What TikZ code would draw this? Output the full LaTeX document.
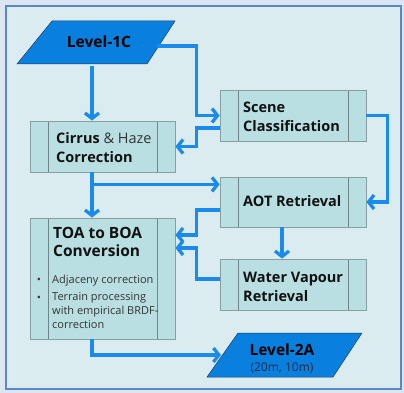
\documentclass[tikz,border=0pt]{standalone}
\usepackage{fontspec}
\setmainfont{Open Sans}
\usetikzlibrary{arrows.meta,calc}
\definecolor{bgout}{HTML}{DCE6F2}
\definecolor{framec}{HTML}{5B87C5}
\definecolor{bgin}{HTML}{DAECEF}
\definecolor{boxfill}{HTML}{B9DFE2}
\definecolor{boxline}{HTML}{86A0A2}
\definecolor{stripline}{HTML}{6E8688}
\definecolor{flowc}{HTML}{1A8BEA}
\definecolor{parafill}{HTML}{0A80DE}
\definecolor{paraline}{HTML}{1A3C66}
\definecolor{txt}{HTML}{111111}
\definecolor{subtxt}{HTML}{333333}
\definecolor{paratxt}{HTML}{1A2A44}
\begin{document}
\begin{tikzpicture}[x=1pt,y=-1pt,
  procbox/.style={draw=boxline, fill=boxfill, line width=0.8pt, minimum width=146pt, inner sep=0pt,
    path picture={\draw[stripline, line width=0.9pt]
      ([xshift=18pt]path picture bounding box.north west) -- ([xshift=18pt]path picture bounding box.south west)
      ([xshift=-18pt]path picture bounding box.north east) -- ([xshift=-18pt]path picture bounding box.south east);}},
  para/.style={draw=paraline, fill=parafill, line width=0.5pt},
  title/.style={font=\bfseries\fontsize{14.5}{19}\selectfont, text=txt, align=left, inner sep=0pt, anchor=west},
  small/.style={font=\fontsize{11}{14}\selectfont, text=subtxt, align=left, inner sep=0pt},
  flow/.style={draw=flowc, line width=3.3pt, -{Straight Barb[length=5.5pt,width=14pt]}}
]
\useasboundingbox (0,0) rectangle (404,393);
\fill[bgout] (0,0) rectangle (404,393);
\draw[framec, fill=bgin, line width=2.6pt] (6,6) rectangle (401,389);

% Level-1C
\draw[para] (17,64) -- (52,21) -- (175,21) -- (147,64) -- cycle;
\node[font=\bfseries\fontsize{15.5}{18}\selectfont, text=black, inner sep=0pt] (l1c) at (99,42) {Level-1C};
\coordinate (l1cR) at (157,46);
\coordinate (l1cB) at (92,66);

% Level-2A
\draw[para] (207,377) -- (238,333) -- (362,333) -- (333,377) -- cycle;
\node[font=\bfseries\fontsize{15.5}{18}\selectfont, text=black, inner sep=0pt] (l2a) at (282,350) {Level-2A};
\node[font=\fontsize{12}{14}\selectfont, text=paratxt, inner sep=0pt] (l2asub) at (282,368) {(20m, 10m)};
\coordinate (l2aL) at (221,355);

% process boxes
\node[procbox, minimum width=145pt, minimum height=51pt] (cirrus) at (102.5,146.5) {};
\node[procbox, minimum height=51pt] (scene) at (293,115.5) {};
\node[procbox, minimum height=50pt] (aot) at (293,202) {};
\node[procbox, minimum height=51pt] (wv) at (293,284.5) {};
\node[procbox, minimum width=145pt, minimum height=121pt] (toa) at (102.5,278.5) {};

% texts
\node[title] (cirrusT) at (56,147.5) {Cirrus {\mdseries\color{subtxt}\&~Haze}\\Correction};
\node[title] (sceneT) at (243,117) {Scene\\Classification};
\node[title] (aotT) at (243,201) {AOT Retrieval};
\node[title] (wvT) at (243,286.5) {Water Vapour\\Retrieval};
\node[title, font=\bfseries\fontsize{15.5}{18}\selectfont, anchor=north west] (toaT) at (53,227) {TOA to BOA\\Conversion};
\node[small] (b1) at (39,281) {•};
\node[small, anchor=west] (t1) at (52,281) {Adjaceny correction};
\node[small] (b2) at (39,299) {•};
\node[small, anchor=north west] (t2) at (52,292) {Terrain processing\\with empirical BRDF-\\correction};

% connectors
\draw[flow] (l1cB) -- ([xshift=-10.5pt]cirrus.north);
\draw[flow] (l1cR) -| ($(scene.west)+(-23,0)$) -- (scene.west);
\draw[flow] ($(scene.west)+(0,12.5)$) -- ++(-23,0) |- (cirrus.east);
\draw[flow] (scene.east) -- ++(21,0) |- (aot.east);
\draw[flow] ([xshift=-10.5pt]cirrus.south) -- ([xshift=-10.5pt]toa.north);
\coordinate (j1) at ($(cirrus.south)+(-10.5,12)$);
\draw[flow] ($(j1)+(-1.6,0)$) -- (j1 -| aot.west);
\draw[flow] ($(aot.west)+(0,8)$) -- ++(-23,0) |- ($(toa.east)+(0,-43.5)$);
\draw[flow] ($(wv.west)+(0,-5.5)$) -- ++(-23,0) |- ($(toa.east)+(0,-30.5)$);
\draw[flow] ([xshift=-11pt]aot.south) -- ([xshift=-11pt]wv.north);
\draw[flow] ([xshift=-10.5pt]toa.south) |- (l2aL);
\end{tikzpicture}
\end{document}
